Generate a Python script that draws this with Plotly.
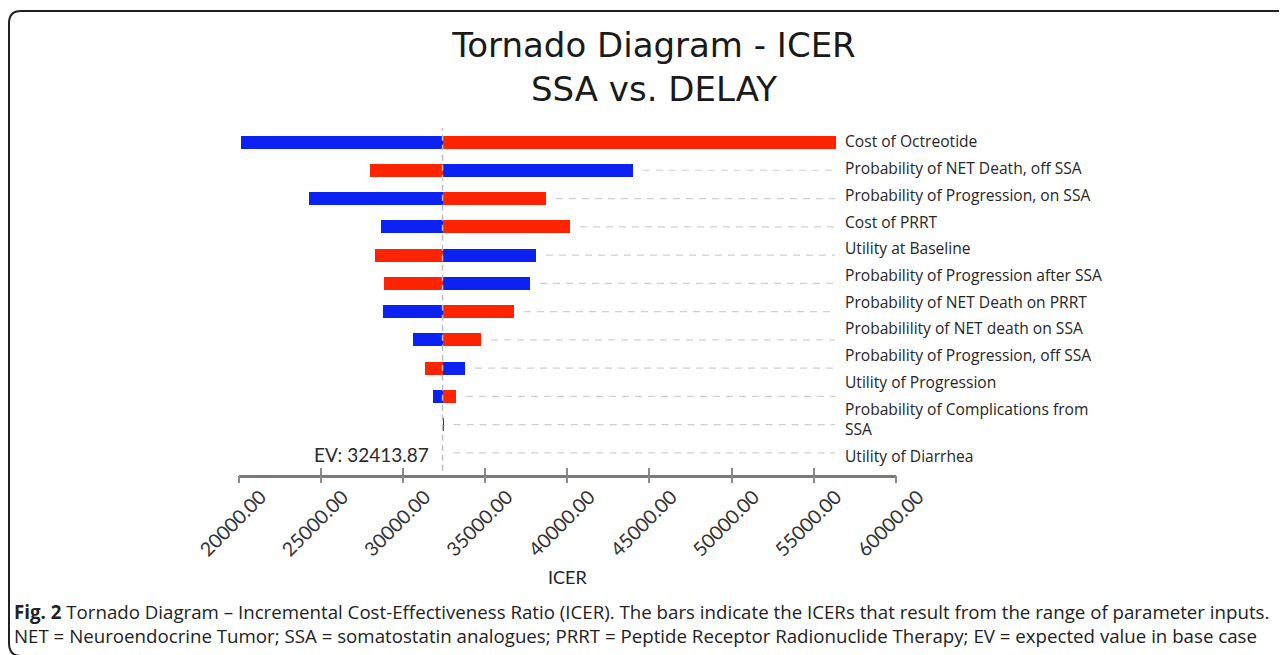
import plotly.graph_objects as go

# ---------------- data ----------------
labels = [
    "Cost of Octreotide",
    "Probability of NET Death, off SSA",
    "Probability of Progression, on SSA",
    "Cost of PRRT",
    "Utility at Baseline",
    "Probability of Progression after SSA",
    "Probability of NET Death on PRRT",
    "Probabilility of NET death on SSA",
    "Probability of Progression, off SSA",
    "Utility of Progression",
    "Probability of Complications from<br>SSA",
    "Utility of Diarrhea",
]
label_lines = [1, 1, 1, 1, 1, 1, 1, 1, 1, 1, 2, 1]
blue_icer = [20122, 43951, 24255, 28632, 38055, 37690, 28754, 30578, 33739, 31793, 32440, 32413.87]
red_icer = [56292, 27964, 38663, 40122, 28267, 28815, 36717, 34711, 31307, 33191, 32413.87, 32413.87]
ev = 32413.87
tick_vals = [20000, 25000, 30000, 35000, 40000, 45000, 50000, 55000, 60000]

# page is offset by the default 8px body margin; size the figure to fit the window
OFF = 8
W, H = 1287 - OFF, 655 - OFF


def fx(px):
    return (px - OFF) / W


def fy(py):
    return 1 - (py - OFF) / H


BLUE = "#0b22f3"
RED = "#ff2400"

idx = list(range(len(labels)))
blue_delta = [b - ev for b in blue_icer]
red_delta = [r - ev for r in red_icer]

# guide dashes from bar end to data max
xmax = max(max(blue_icer), max(red_icer))
gap = 650
gx, gy = [], []
for i in idx:
    start = max(blue_icer[i], red_icer[i], ev) + gap
    if start < xmax:
        gx += [start, xmax, None]
        gy += [i, i, None]

# label positions in "line" units
LG = 0.271
pos = []
top = 0.0
for n in label_lines:
    pos.append(top + n / 2)
    top += n + LG

fig = go.Figure()
fig.add_trace(go.Scatter(x=gx, y=gy, mode="lines", line=dict(color="#cfcfcf", width=1.2, dash="7px,6px"),
                         hoverinfo="skip", showlegend=False))
fig.add_trace(go.Bar(y=idx, x=blue_delta, base=ev, orientation="h", width=0.46,
                     marker=dict(color=BLUE, line=dict(width=0)), showlegend=False))
fig.add_trace(go.Bar(y=idx, x=red_delta, base=ev, orientation="h", width=0.46,
                     marker=dict(color=RED, line=dict(width=0)), showlegend=False))
# invisible traces to carry the label axis and the secondary tick axis
fig.add_trace(go.Scatter(x=[ev] * len(pos), y=pos, xaxis="x", yaxis="y2", mode="markers",
                         marker=dict(opacity=0), hoverinfo="skip", showlegend=False))
fig.add_trace(go.Scatter(x=[ev], y=[0], xaxis="x2", yaxis="y", mode="markers",
                         marker=dict(opacity=0), hoverinfo="skip", showlegend=False))

px_top, px_bot = 128, 475
row0_px, row_step = 142, 28.27
y_lo = (px_bot - row0_px) / row_step
y_hi = (px_top - row0_px) / row_step
LINE_PX, L0_TOP = 21.0, 131.5
y2_lo = (px_bot - L0_TOP) / LINE_PX
y2_hi = (px_top - L0_TOP) / LINE_PX

dom_y = [fy(px_bot), fy(px_top)]
dom_x = [fx(238.5), fx(896)]

fig.update_layout(
    width=W, height=H,
    margin=dict(l=0, r=0, t=0, b=0, autoexpand=False),
    paper_bgcolor="white", plot_bgcolor="white",
    barmode="overlay",
    bargap=0,
    title=dict(text="Tornado Diagram - ICER<br>SSA vs. DELAY", x=fx(654), xanchor="center",
               y=1 - 49 / H, yanchor="top", yref="container", automargin=False,
               font=dict(family="DejaVu Sans", size=34, color="#1a1a1a")),
    xaxis=dict(domain=dom_x, range=[20000, 60000], tickvals=tick_vals, tickformat=".2f",
               tickangle=-45, ticks="inside", ticklen=7, tickwidth=2, tickcolor="#8a8a8a",
               ticklabelshift=22, ticklabelstandoff=0,
               showline=True, linecolor="#7a7a7a", linewidth=3, showgrid=False, zeroline=False,
               tickfont=dict(family="Lato", size=19.5, color="#333333"),
               automargin=False, anchor="y"),
    xaxis2=dict(overlaying="x", matches="x", range=[20000, 60000], tickvals=tick_vals,
                ticks="outside", ticklen=7, tickwidth=2, tickcolor="#8a8a8a",
                showticklabels=False, showline=False, showgrid=False, zeroline=False,
                anchor="y", side="bottom", automargin=False),
    yaxis=dict(domain=dom_y, range=[y_lo, y_hi], showticklabels=False, showgrid=False,
               zeroline=False, showline=False, ticks="", automargin=False),
    yaxis2=dict(domain=dom_y, range=[y2_lo, y2_hi], overlaying="y", anchor="free",
                position=fx(844), side="right", tickvals=pos, ticktext=labels, ticks="",
                showgrid=False, zeroline=False, showline=False, automargin=False,
                tickfont=dict(family="Open Sans", size=15.6, color="#262626")),
    shapes=[
        dict(type="line", xref="x", yref="y domain", x0=ev, x1=ev, y0=0.012, y1=1,
             line=dict(color="#bdbdbd", width=1.5, dash="6px,4px")),
        dict(type="path", xref="paper", yref="paper",
             path=(f"M 1.01,{fy(11)} L {fx(21)},{fy(11)} "
                   f"Q {fx(9)},{fy(11)} {fx(9)},{fy(23)} "
                   f"L {fx(9)},{fy(643)} Q {fx(9)},{fy(656)} {fx(21)},{fy(656)}"),
             line=dict(color="#222222", width=2)),
    ],
    annotations=[
        dict(text="ICER", x=0.5, y=fy(577), xref="x domain", yref="paper",
             xanchor="center", yanchor="middle", showarrow=False,
             font=dict(family="Lato", size=18, color="#222222")),
        dict(text="EV: 32413.87", x=ev, y=11, xref="x", yref="y", xanchor="right", yanchor="middle",
             xshift=-12, yshift=-2, showarrow=False,
             font=dict(family="Lato", size=19, color="#2a2a2a")),
        dict(text=("<b>Fig. 2</b> Tornado Diagram – Incremental Cost-Effectiveness Ratio (ICER). "
                   "The bars indicate the ICERs that result from the range of parameter inputs.<br>"
                   "NET = Neuroendocrine Tumor; SSA = somatostatin analogues; PRRT = Peptide Receptor "
                   "Radionuclide Therapy; EV = expected value in base case"),
             x=fx(12), y=fy(597), xref="paper", yref="paper", xanchor="left", yanchor="top",
             align="left", showarrow=False,
             font=dict(family="Open Sans", size=18.7, color="#222222")),
    ],
)

fig.write_html("out.html")
